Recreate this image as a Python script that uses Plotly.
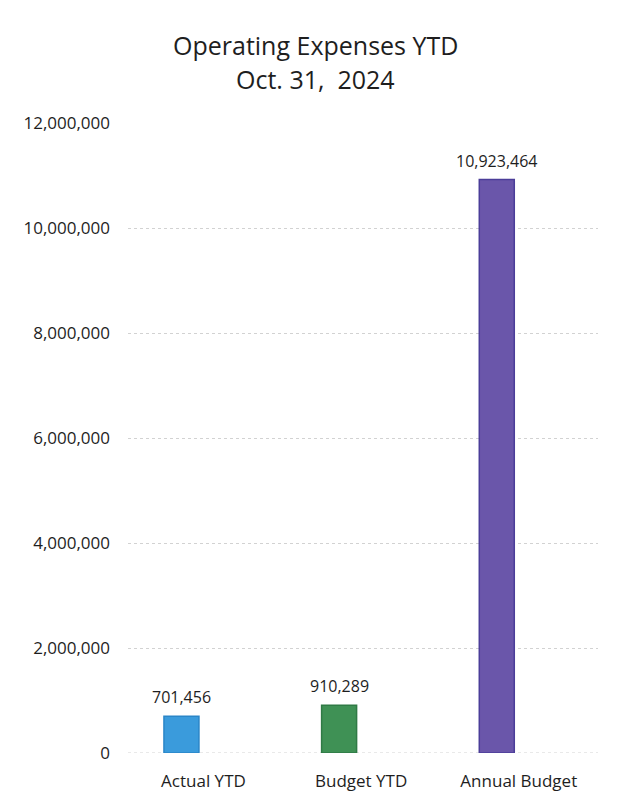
import plotly.graph_objects as go

categories = ["Actual YTD", "Budget YTD", "Annual Budget"]
values = [701456, 910289, 10923464]
colors = ["#3a9bdc", "#3f9155", "#6a56aa"]
line_colors = ["#2a86c8", "#2f7a45", "#4b3d99"]
tick_vals = [0, 2000000, 4000000, 6000000, 8000000, 10000000, 12000000]
tick_text = ["0", "2,000,000", "4,000,000", "6,000,000", "8,000,000", "10,000,000", "12,000,000"]
title_lines = ["Operating Expenses YTD", "Oct. 31,  2024"]

FONT = "Open Sans"
TXT = "#1e1e1e"

fig = go.Figure(go.Bar(
    x=categories, y=values,
    marker=dict(color=colors, line=dict(color=line_colors, width=1.5)),
    cliponaxis=False,
))

# plot area: x 128..598, y 123..753
L, R, T, B = 128, 26, 123, 51
H = 804 - T - B
W = 624 - L - R

annotations = []
for line, ypx in zip(title_lines, [45, 79]):
    annotations.append(dict(
        text=line, showarrow=False,
        xref="paper", yref="paper",
        x=(315 - L) / W, y=1 + (T - ypx) / H,
        xanchor="center", yanchor="middle",
        font=dict(size=25, color=TXT, family=FONT),
    ))
for c, v in zip(categories, values):
    annotations.append(dict(
        text=f"{v:,}", showarrow=False, x=c, y=v, xref="x", yref="y",
        xanchor="center", yanchor="middle", yshift=19,
        font=dict(size=16, color=TXT, family=FONT),
    ))

fig.update_layout(
    width=624, height=804,
    margin=dict(l=L, r=R, t=T, b=B),
    paper_bgcolor="white", plot_bgcolor="white",
    bargap=0.778,
    showlegend=False,
    font=dict(family=FONT, color=TXT),
    annotations=annotations,
    xaxis=dict(
        showgrid=False, showline=False, ticks="",
        tickfont=dict(size=17, color=TXT),
        ticklabelstandoff=16,
        ticklabelshift=22,
        range=[-0.339, 2.642],
    ),
    yaxis=dict(
        range=[0, 12000000],
        tickvals=tick_vals, ticktext=tick_text,
        showgrid=True, gridcolor="#d2d2d2", griddash="dot", gridwidth=1,
        zeroline=False,
        showline=False, ticks="", ticklen=0,
        ticklabelstandoff=17,
        tickfont=dict(size=17, color=TXT),
    ),
    shapes=[dict(type="line", xref="paper", yref="y", x0=0, x1=1, y0=0, y1=0,
                 line=dict(color="#d2d2d2", width=1, dash="dot"), layer="below")],
)

fig.write_html("out.html")
